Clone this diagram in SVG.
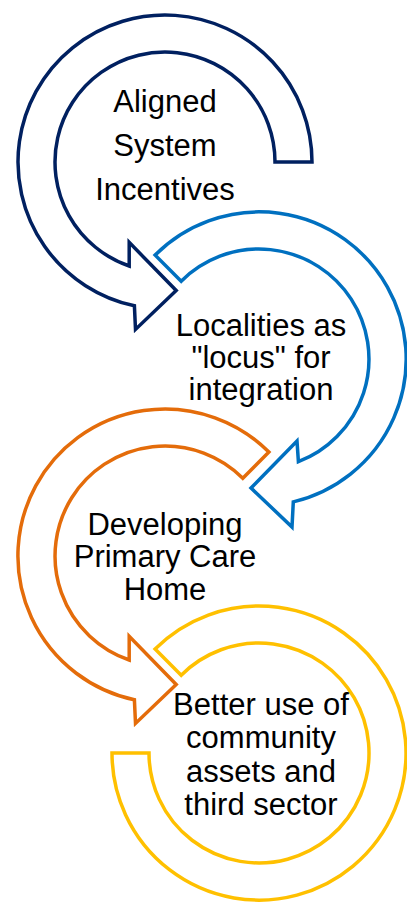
<svg xmlns="http://www.w3.org/2000/svg" width="407" height="902" viewBox="0 0 407 902">
<style>
.arr{fill:#fff;stroke-width:3.5;stroke-linejoin:miter;stroke-miterlimit:10}
.t{font-family:"Liberation Sans",Arial,sans-serif;font-size:31px;fill:#000;text-anchor:middle}
</style>
<rect width="407" height="902" fill="#fff"/>
<g id="connectors"></g>
<g id="node4">
<path class="arr" stroke="#FFC000" d="M155.1,649.1 A147,147 0 1 1 112,753 L149,753 A110,110 0 1 0 181.2,675.2 Z"/>
<text class="t" x="261" y="715">Better use of</text>
<text class="t" x="261" y="748">community</text>
<text class="t" x="261" y="781.5">assets and</text>
<text class="t" x="261" y="815">third sector</text>
</g>
<g id="node3">
<path class="arr" stroke="#E46C0A" d="M268.9,452.1 A147,147 0 1 0 134.4,699.8 L135.5,723.4 L176.2,684.5 L129.2,636.4 L129.2,660 A110,110 0 1 1 242.8,478.2 Z"/>
<text class="t" x="165" y="535">Developing</text>
<text class="t" x="165" y="567">Primary Care</text>
<text class="t" x="165" y="600">Home</text>
</g>
<g id="node2">
<path class="arr" stroke="#0070C0" d="M155.1,255.1 A147,147 0 1 1 293.3,501.9 L292,527 L251,488 L297,441 L298.4,461.7 A110,110 0 1 0 181.2,281.2 Z"/>
<text class="t" x="261" y="336">Localities as</text>
<text class="t" x="261" y="368">"locus" for</text>
<text class="t" x="261" y="400">integration</text>
</g>
<g id="node1">
<path class="arr" stroke="#002060" d="M312,162 A147,147 0 1 0 134.4,305.8 L135.5,329.4 L176.2,290.5 L129.2,242.4 L129.2,266 A110,110 0 1 1 275,162 Z"/>
<text class="t" x="165" y="111.5">Aligned</text>
<text class="t" x="165" y="155.5">System</text>
<text class="t" x="165" y="200">Incentives</text>
</g>
</svg>
